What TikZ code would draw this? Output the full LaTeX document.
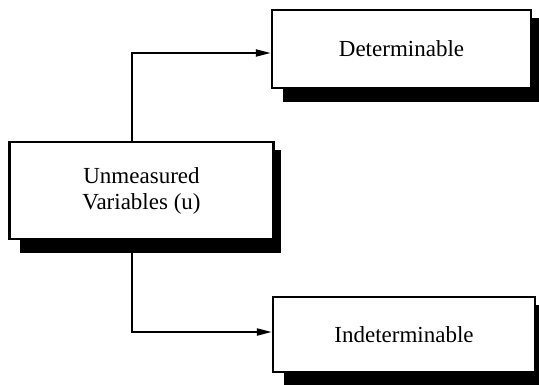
\documentclass[tikz,border=0pt]{standalone}
\usepackage{fontspec}
\setmainfont{Liberation Serif}
\usetikzlibrary{arrows.meta}
\begin{document}
\begin{tikzpicture}[x=1pt,y=1pt,
  blk/.style={draw=black,line width=2.4pt,fill=white,rectangle,inner sep=0pt,
    font=\fontsize{23}{26}\selectfont,align=center},
  shade/.style={fill=black},
  link/.style={line width=2pt,-{Triangle[length=15pt,width=7pt]}}]
\useasboundingbox (0,0) rectangle (539,-384);
\begin{scope}
\clip (0,0) rectangle (539,-384);
% drop shadows
\fill[shade] (20,-150) rectangle (281,-253);
\fill[shade] (283,-18) rectangle (539,-102);
\fill[shade] (284,-305) rectangle (542,-386);
% boxes
\node[blk,minimum width=264pt,minimum height=97pt] (u) at (141.5,-190.5) {Unmeasured\\Variables (u)};
\node[blk,minimum width=259pt,minimum height=78pt] (d) at (401.5,-49) {Determinable};
\node[blk,minimum width=262pt,minimum height=75pt] (i) at (404,-334.5) {Indeterminable};
\end{scope}
% connectors
\coordinate (ut) at ([xshift=-9.5pt]u.north);
\coordinate (ub) at ([xshift=-9.5pt]u.south);
\draw[link] (ut) |- ([yshift=-4pt]d.west);
\draw[link] (ub) |- ([yshift=2.5pt]i.west);
\end{tikzpicture}
\end{document}
